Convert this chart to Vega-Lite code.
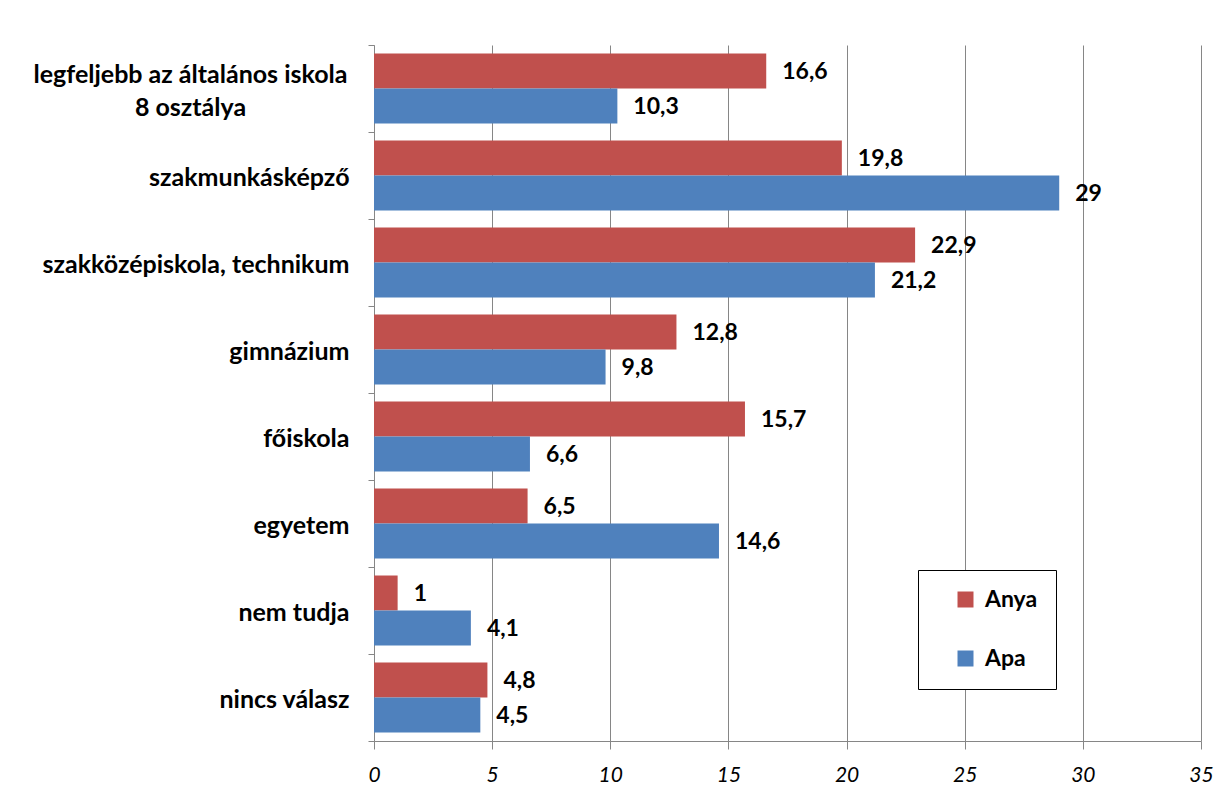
{
  "$schema": "https://vega.github.io/schema/vega-lite/v6.json",
  "width": 827,
  "height": 696,
  "padding": {"left": 374, "top": 45, "right": 19, "bottom": 64},
  "autosize": {"type": "none"},
  "background": "white",
  "config": {
    "font": "Lato",
    "locale": {"number": {"decimal": ",", "thousands": " ", "grouping": [3], "currency": ["", " Ft"]}},
    "view": {"stroke": null}
  },
  "data": {
    "values": [
      {"cat": "legfeljebb az általános iskola 8 osztálya", "series": "Anya", "value": 16.6},
      {"cat": "legfeljebb az általános iskola 8 osztálya", "series": "Apa", "value": 10.3},
      {"cat": "szakmunkásképző", "series": "Anya", "value": 19.8},
      {"cat": "szakmunkásképző", "series": "Apa", "value": 29},
      {"cat": "szakközépiskola, technikum", "series": "Anya", "value": 22.9},
      {"cat": "szakközépiskola, technikum", "series": "Apa", "value": 21.2},
      {"cat": "gimnázium", "series": "Anya", "value": 12.8},
      {"cat": "gimnázium", "series": "Apa", "value": 9.8},
      {"cat": "főiskola", "series": "Anya", "value": 15.7},
      {"cat": "főiskola", "series": "Apa", "value": 6.6},
      {"cat": "egyetem", "series": "Anya", "value": 6.5},
      {"cat": "egyetem", "series": "Apa", "value": 14.6},
      {"cat": "nem tudja", "series": "Anya", "value": 1},
      {"cat": "nem tudja", "series": "Apa", "value": 4.1},
      {"cat": "nincs válasz", "series": "Anya", "value": 4.8},
      {"cat": "nincs válasz", "series": "Apa", "value": 4.5}
    ]
  },
  "encoding": {
    "y": {
      "field": "cat",
      "type": "nominal",
      "sort": null,
      "scale": {"paddingInner": 0, "paddingOuter": 0},
      "axis": {
        "title": null,
        "tickBand": "extent",
        "tickSize": 6,
        "tickColor": "#868686",
        "domainColor": "#868686",
        "labelPadding": {"condition": {"test": "datum.value == 'legfeljebb az általános iskola 8 osztálya'", "value": 178}, "value": 19},
        "labelAlign": {"condition": {"test": "datum.value == 'legfeljebb az általános iskola 8 osztálya'", "value": "center"}, "value": "right"},
        "labelOffset": {"condition": {"test": "datum.value == 'legfeljebb az általános iskola 8 osztálya'", "value": -14}, "value": 2},
        "labelFontSize": 25,
        "labelFontWeight": "bold",
        "labelColor": "black",
        "labelLimit": 400,
        "labelLineHeight": 33,
        "labelExpr": "datum.value == 'legfeljebb az általános iskola 8 osztálya' ? ['legfeljebb az általános iskola', '8 osztálya'] : datum.value"
      }
    },
    "yOffset": {
      "field": "series",
      "type": "nominal",
      "sort": ["Anya", "Apa"],
      "scale": {"paddingInner": 0, "paddingOuter": 0.243}
    },
    "x": {
      "field": "value",
      "type": "quantitative",
      "scale": {"domain": [0, 35], "nice": false},
      "axis": {
        "title": null,
        "values": [0, 5, 10, 15, 20, 25, 30, 35],
        "grid": true,
        "gridColor": "#868686",
        "gridWidth": 1,
        "tickSize": 8,
        "tickColor": "#868686",
        "domainColor": "#868686",
        "labelFontSize": 21,
        "labelFontStyle": "italic",
        "labelColor": "black",
        "labelPadding": 15,
        "labelFlush": false
      }
    }
  },
  "layer": [
    {
      "mark": {"type": "bar"},
      "encoding": {
        "color": {
          "field": "series",
          "type": "nominal",
          "scale": {"domain": ["Anya", "Apa"], "range": ["#C0504D", "#4F81BD"]},
          "legend": {
            "title": null,
            "orient": "none",
            "legendX": 544,
            "legendY": 525,
            "symbolType": "square",
            "symbolSize": 256,
            "symbolStrokeWidth": 0,
            "symbolOffset": 18,
            "labelFontSize": 23,
            "labelFontWeight": "bold",
            "labelColor": "black",
            "labelOffset": 8,
            "rowPadding": 35,
            "padding": 18,
            "strokeColor": "black",
            "fillColor": "white"
          }
        }
      }
    },
    {
      "mark": {"type": "text", "align": "left", "dx": 16, "dy": 1, "fontSize": 23, "fontWeight": "bold", "color": "black"},
      "encoding": {
        "text": {"field": "value", "type": "quantitative", "format": ".3~g"}
      }
    }
  ]
}
